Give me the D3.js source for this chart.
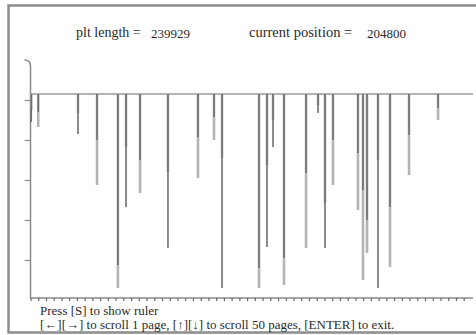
<!DOCTYPE html>
<html>
<head>
<meta charset="utf-8">
<script src="https://cdn.jsdelivr.net/npm/d3@7"></script>
<style>
  html, body { margin: 0; padding: 0; background: #fff; }
  svg { display: block; }
  text { font-family: "Liberation Serif", "DejaVu Serif", serif; fill: #2a2a2a; }
</style>
</head>
<body>
<script>
// Header values
const pltLength = 239929;
const currentPosition = 204800;

// Spike positions along the page (ruler units, 10 units per ruler tick)
const spikeX = [1, 10, 61.4, 86, 113, 123.5, 141.6, 177.7, 216.5, 237.2, 247.6,
  295.4, 305.7, 313.5, 327.7, 356.2, 371.7, 380.7, 391, 423.3, 429.8, 435,
  449.2, 464.7, 489.3, 526.8];
// Depth below the baseline for each channel
const darkDepth = [28, 18, 40, 46, 171, 113, 66, 154, 43, 23, 194,
  174, 153, 53, 164, 79, 19, 154, 46, 59, 96, 126,
  194, 113, 41, 14];
const lightDepth = [16, 33, 19, 91, 194, 53, 99, 78, 84, 46, 64,
  194, 71, 26, 191, 154, 11, 109, 91, 116, 186, 159,
  66, 173, 81, 26];

// Axis ticks
const rulerTicks = d3.range(0, 561, 10);
const depthTicks = [6, 46, 86, 126, 166];

const helpLine1 = "Press [S] to show ruler";
const helpLine2 = "[\u2190][\u2192] to scroll 1 page, [\u2191][\u2193] to scroll 50 pages, [ENTER] to exit.";

const W = 476, H = 335;
const svg = d3.select("body").append("svg").attr("width", W).attr("height", H);
svg.append("rect").attr("width", W).attr("height", H).attr("fill", "#fff");

// window frame (right edge runs past the view)
svg.append("rect")
  .attr("x", 8.5).attr("y", 5.5).attr("width", 480).attr("height", 327)
  .attr("fill", "none").attr("stroke", "#8c8c8c").attr("stroke-width", 2.5);

const x = d3.scaleLinear().domain([0, 572]).range([30.5, 473]);
const y = d3.scaleLinear().domain([-34, 204]).range([60, 298]);

// header
svg.append("text").attr("x", 76).attr("y", 37).attr("font-size", 14)
  .text("plt length = ");
svg.append("text").attr("x", 151).attr("y", 38).attr("font-size", 13)
  .text(pltLength);
svg.append("text").attr("x", 249).attr("y", 37).attr("font-size", 14.5)
  .text("current position = ");
svg.append("text").attr("x", 367).attr("y", 38).attr("font-size", 13)
  .text(currentPosition);

// ruler along the bottom
const xAxis = d3.axisBottom(x).tickValues(rulerTicks).tickSize(3).tickFormat("");
const gx = svg.append("g").attr("transform", `translate(0,${y(204)})`).call(xAxis);
gx.select(".domain").attr("stroke", "#8a8a8a").attr("stroke-width", 1.5)
  .attr("d", `M${x(0)},0H${x(572)}`);
gx.selectAll(".tick line").attr("stroke", "#666").attr("stroke-width", 1.2);

// depth axis on the left
const yAxis = d3.axisLeft(y).tickValues(depthTicks).tickSize(6).tickFormat("");
const gy = svg.append("g").attr("transform", `translate(${x(0)},0)`).call(yAxis);
gy.select(".domain").attr("stroke", "#8a8a8a").attr("stroke-width", 1.5)
  .attr("d", `M-6,${y(-34)}Q0,${y(-34)} 0,${y(-28)}V${y(204)}`);
gy.selectAll(".tick line").attr("stroke", "#8a8a8a").attr("stroke-width", 1.2);

// baseline
svg.append("line")
  .attr("x1", x(0)).attr("x2", x(572))
  .attr("y1", y(0)).attr("y2", y(0))
  .attr("stroke", "#9a9a9a").attr("stroke-width", 1.5);

// spikes: light channel underneath, dark channel on top
const spikes = spikeX.map((v, i) => ({ x: v, dark: darkDepth[i], light: lightDepth[i] }));

svg.append("g").selectAll("line").data(spikes).join("line")
  .attr("x1", d => x(d.x)).attr("x2", d => x(d.x))
  .attr("y1", y(0)).attr("y2", d => y(d.light))
  .attr("stroke", "#b4b4b4").attr("stroke-width", 2.6);

svg.append("g").selectAll("line").data(spikes).join("line")
  .attr("x1", d => x(d.x)).attr("x2", d => x(d.x))
  .attr("y1", y(0)).attr("y2", d => y(d.dark))
  .attr("stroke", "#6e6e6e").attr("stroke-width", 1.6);

// key help
svg.append("text").attr("x", 40).attr("y", 315).attr("font-size", 13)
  .text(helpLine1);
svg.append("text").attr("x", 40).attr("y", 329).attr("font-size", 13)
  .text(helpLine2);
</script>
</body>
</html>
